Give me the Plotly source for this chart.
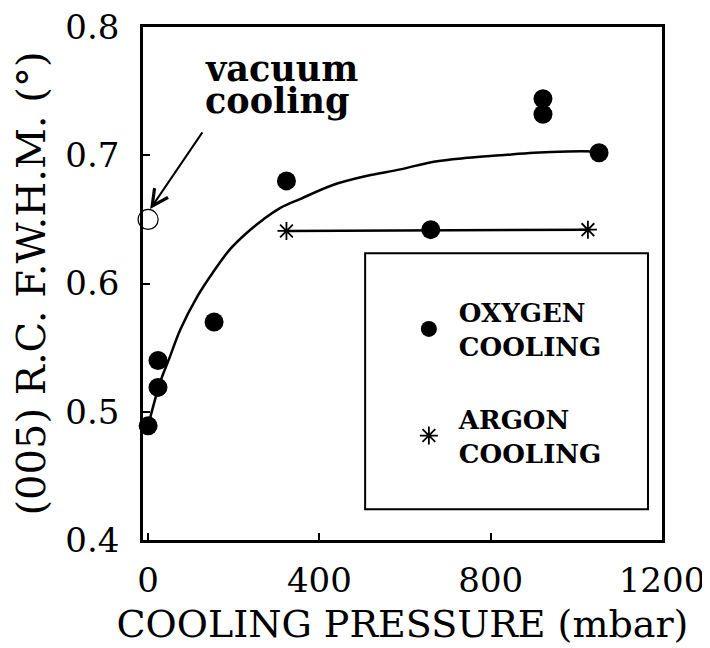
import plotly.graph_objects as go

# ---- data ----
oxy_p = [0, 23, 23, 154, 323, 660, 922, 922, 1053]
oxy_w = [0.489, 0.519, 0.540, 0.570, 0.680, 0.642, 0.744, 0.732, 0.702]

argon_p = [323, 1027]
argon_w = [0.641, 0.642]

vac_p = [0]
vac_w = [0.650]

fit_p = [0, 28, 51, 75, 115, 152, 192, 232, 269, 309, 356, 433, 512, 589, 667, 746, 823, 901, 980, 1053]
fit_w = [0.489, 0.523, 0.543, 0.564, 0.590, 0.609, 0.627, 0.640, 0.650, 0.659, 0.666,
         0.677, 0.684, 0.689, 0.695, 0.698, 0.700, 0.702, 0.703, 0.703]

x_ticks = [0, 400, 800, 1200]
x_ticklabels = ["0", "400", "800", "1200"]
y_ticks = [0.4, 0.5, 0.6, 0.7, 0.8]
y_ticklabels = ["0.4", "0.5", "0.6", "0.7", "0.8"]

FONT = "DejaVu Serif"

fig = go.Figure()

fig.add_trace(go.Scatter(x=fit_p, y=fit_w, mode="lines", line=dict(color="black", width=2.5, shape="spline"),
                         showlegend=False, hoverinfo="skip"))
fig.add_trace(go.Scatter(x=argon_p, y=argon_w, mode="lines", line=dict(color="black", width=2.5),
                         showlegend=False, hoverinfo="skip"))
fig.add_trace(go.Scatter(x=oxy_p, y=oxy_w, mode="markers", name="OXYGEN<br>COOLING",
                         legendgroup="o", cliponaxis=False,
                         marker=dict(color="black", size=19, symbol="circle")))
fig.add_trace(go.Scatter(x=argon_p, y=argon_w, mode="markers", name="ARGON<br>COOLING",
                         legendgroup="a", cliponaxis=False,
                         marker=dict(color="black", size=15, symbol="asterisk-open",
                                     line=dict(color="black", width=1.8))))
fig.add_trace(go.Scatter(x=vac_p, y=vac_w, mode="markers", showlegend=False, cliponaxis=False,
                         marker=dict(color="black", size=20, symbol="circle-open",
                                     line=dict(color="black", width=1.2))))

fig.update_layout(
    width=702, height=640,
    margin=dict(l=135, r=48, t=19, b=108, autoexpand=False),
    paper_bgcolor="white", plot_bgcolor="white",
    font=dict(family=FONT, color="black"),
    legend=dict(x=0.493, y=0.49, xanchor="left", yanchor="top",
                bgcolor="rgba(0,0,0,0)", borderwidth=0,
                font=dict(family=FONT, size=26, color="black", weight="bold"),
                itemwidth=50, traceorder="grouped", tracegroupgap=36),
    xaxis=dict(range=[-12, 1200], tickvals=x_ticks, ticktext=x_ticklabels,
               showgrid=False, zeroline=False, showline=True, mirror=True, automargin=False,
               linecolor="black", linewidth=2.5, ticks="inside", ticklen=7,
               tickwidth=2, tickcolor="black", ticklabelstandoff=8, ticklabeloverflow="allow",
               tickfont=dict(family=FONT, size=34, color="black"),
               title=dict(text="COOLING PRESSURE (mbar)", standoff=12,
                          font=dict(family=FONT, size=38, color="black"))),
    yaxis=dict(range=[0.4, 0.8], tickvals=y_ticks, ticktext=y_ticklabels,
               showgrid=False, zeroline=False, showline=True, mirror=True, automargin=False,
               linecolor="black", linewidth=2.5, ticks="inside", ticklen=7,
               tickwidth=2, tickcolor="black", ticklabelstandoff=14, ticklabeloverflow="allow",
               tickfont=dict(family=FONT, size=34, color="black"),
               title=dict(text="(005) R.C. F.W.H.M. (°)", standoff=16,
                          font=dict(family=FONT, size=40, color="black"))),
)

# legend box
fig.add_shape(type="rect", xref="paper", yref="paper",
              x0=0.428, x1=0.973, y0=0.060, y1=0.559,
              line=dict(color="black", width=2), fillcolor="rgba(0,0,0,0)")

# vacuum cooling label + arrow
fig.add_annotation(x=129, y=0.768, xref="x", yref="y", text="vacuum", showarrow=False,
                   xanchor="left", yanchor="middle",
                   font=dict(family=FONT, size=35, color="black", weight="bold"))
fig.add_annotation(x=129, y=0.743, xref="x", yref="y", text="cooling", showarrow=False,
                   xanchor="left", yanchor="middle",
                   font=dict(family=FONT, size=35, color="black", weight="bold"))
fig.add_annotation(x=4.7, y=0.658, xref="x", yref="y", ax=129, ay=0.719, axref="x", ayref="y",
                   text="", showarrow=True, arrowhead=5, arrowsize=1.6, arrowwidth=2,
                   arrowcolor="black")

fig.write_html("out.html")
